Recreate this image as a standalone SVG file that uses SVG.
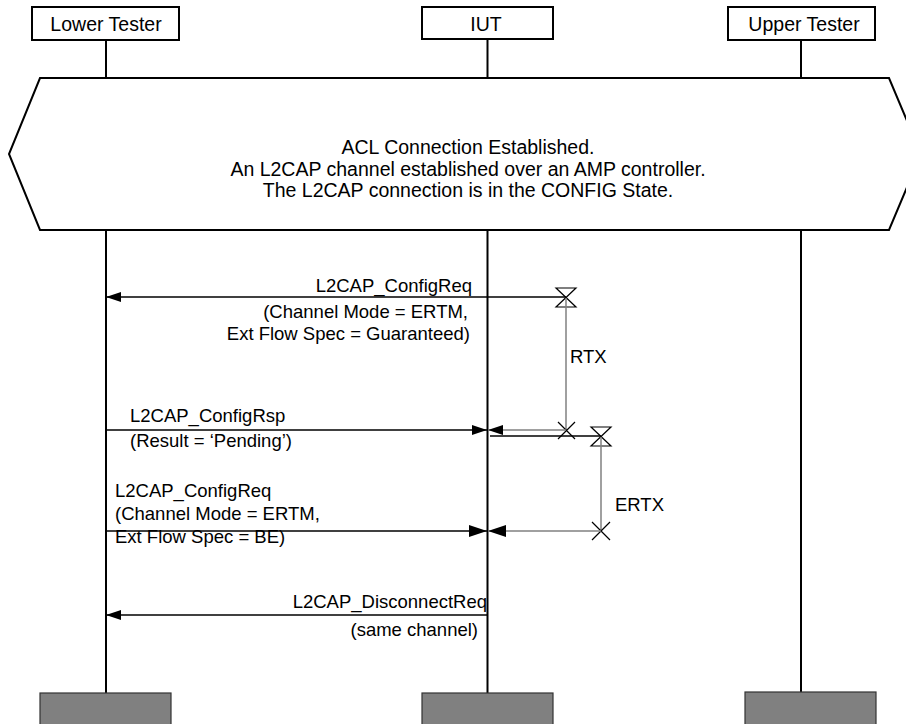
<svg xmlns="http://www.w3.org/2000/svg" width="906" height="724" viewBox="0 0 906 724">
<style>
text{font-family:"Liberation Sans",Arial,sans-serif;font-size:18.5px;fill:#000}
.h{font-size:19.5px}
.c{font-size:19.5px}
.hdr{fill:#fff;stroke:#000;stroke-width:2}
.foot{fill:#808080;stroke:#333;stroke-width:1.2}
.life{stroke:#000;stroke-width:2;fill:none}
.msg{stroke:#000;stroke-width:1.3;fill:none}
.tmr{stroke:#808080;stroke-width:1.5;fill:none}
.tsym{stroke:#000;stroke-width:1.2;fill:none}
.mid{text-anchor:middle}
.end{text-anchor:end}
</style>
<defs>
<marker id="ah" markerWidth="16" markerHeight="10" refX="15" refY="5" orient="auto" markerUnits="userSpaceOnUse">
<path d="M0,0 L15,5 L0,10 Z" fill="#000"/>
</marker>
<marker id="ahb" markerWidth="20" markerHeight="12" refX="18" refY="6" orient="auto" markerUnits="userSpaceOnUse">
<path d="M0,0 L18,6 L0,12 Z" fill="#000"/>
</marker>
</defs>

<g id="lifelines">
<line class="life" x1="106" y1="40" x2="106" y2="78"/>
<line class="life" x1="487.5" y1="39" x2="487.5" y2="78"/>
<line class="life" x1="801" y1="40" x2="801" y2="78"/>
<line class="life" x1="106" y1="230" x2="106" y2="693"/>
<line class="life" x1="487.5" y1="230" x2="487.5" y2="693"/>
<line class="life" x1="801" y1="230" x2="801" y2="692"/>
</g>

<g id="lower-tester">
<rect class="hdr" x="32" y="7" width="147" height="33"/>
<text class="mid h" x="106" y="30.5">Lower Tester</text>
<rect class="foot" x="40" y="693" width="131" height="40"/>
</g>
<g id="iut">
<rect class="hdr" x="422" y="7" width="131" height="32"/>
<text class="mid h" x="486" y="30.5">IUT</text>
<rect class="foot" x="422" y="693" width="131" height="40"/>
</g>
<g id="upper-tester">
<rect class="hdr" x="728" y="7" width="147" height="33"/>
<text class="mid h" x="804" y="30.5">Upper Tester</text>
<rect class="foot" x="745" y="692" width="131" height="40"/>
</g>

<g id="condition">
<polygon points="40,78 889,78 921,154 889,230 40,230 9,154" fill="#fff" stroke="#000" stroke-width="2"/>
<text class="mid c" x="468" y="154">ACL Connection Established.</text>
<text class="mid c" x="468" y="176">An L2CAP channel established over an AMP controller.</text>
<text class="mid c" x="468" y="197">The L2CAP connection is in the CONFIG State.</text>
</g>

<g id="connectors">
<line class="msg" x1="566" y1="297" x2="106" y2="297" marker-end="url(#ah)"/>
<path class="tsym" d="M556,288 H576 L556,307 H576 Z"/>
<line class="tmr" x1="566" y1="298" x2="566" y2="430"/>
<path class="tsym" d="M558,422 L575,439 M575,422 L558,439" stroke-width="1.6"/>
<line class="msg" x1="106" y1="430" x2="487" y2="430" marker-end="url(#ah)"/>
<line class="tmr" x1="566" y1="430" x2="488" y2="430" marker-end="url(#ah)"/>
<line class="msg" x1="490" y1="436" x2="601" y2="436"/>
<path class="tsym" d="M591,427 H611 L591,446 H611 Z"/>
<line class="tmr" x1="601" y1="437" x2="601" y2="531"/>
<path class="tsym" d="M592,522 L610,540 M610,522 L592,540" stroke-width="1.6"/>
<line class="msg" x1="106" y1="531" x2="487" y2="531" marker-end="url(#ahb)"/>
<line class="tmr" x1="601" y1="531" x2="488" y2="531" marker-end="url(#ahb)"/>
<line class="msg" x1="487" y1="615" x2="106" y2="615" marker-end="url(#ah)"/>
</g>

<g id="labels">
<text class="end" x="472" y="292">L2CAP_ConfigReq</text>
<text class="end" x="468" y="318">(Channel Mode = ERTM,</text>
<text class="end" x="470" y="340">Ext Flow Spec = Guaranteed)</text>
<text x="570" y="363">RTX</text>
<text x="130" y="422">L2CAP_ConfigRsp</text>
<text x="130" y="447">(Result = ‘Pending’)</text>
<text x="615" y="511">ERTX</text>
<text x="115" y="497">L2CAP_ConfigReq</text>
<text x="115" y="520">(Channel Mode = ERTM,</text>
<text x="115" y="543">Ext Flow Spec = BE)</text>
<text class="end" x="487" y="608">L2CAP_DisconnectReq</text>
<text class="end" x="478" y="636">(same channel)</text>
</g>
</svg>
